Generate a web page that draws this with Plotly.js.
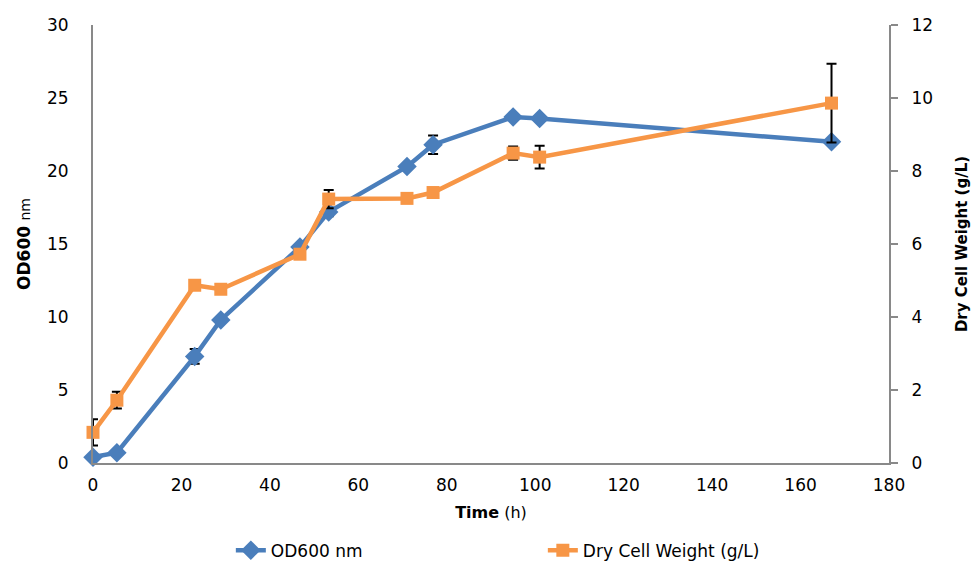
<!DOCTYPE html>
<html>
<head>
<meta charset="utf-8">
<script src="https://cdn.plot.ly/plotly-3.0.1.min.js"></script>
<style>html,body{margin:0;padding:0;background:#fff}#chart{width:974px;height:563px}</style>
</head>
<body>
<div id="chart"></div>
<script>
// Time (h)
const timeOD = [0, 5.4, 23, 28.9, 46.8, 53.3, 71, 76.9, 95, 101, 167];
const od600 = [0.4, 0.7, 7.3, 9.8, 14.8, 17.2, 20.3, 21.8, 23.7, 23.6, 22.0];
const od600Err = [0, 0, 0.5, 0.2, 0, 0.3, 0, 0.63, 0, 0.1, 0];

const timeDCW = [0, 5.4, 23, 28.9, 46.8, 53.3, 71, 76.9, 95, 101, 167];
const dcw = [0.84, 1.72, 4.87, 4.76, 5.72, 7.23, 7.25, 7.41, 8.49, 8.38, 9.86];
const dcwErr = [0.36, 0.23, 0, 0.06, 0, 0.25, 0, 0, 0.18, 0.31, 1.08];

const xTicks = [0, 20, 40, 60, 80, 100, 120, 140, 160, 180];
const yLeftTicks = [0, 5, 10, 15, 20, 25, 30];
const yRightTicks = [0, 2, 4, 6, 8, 10, 12];

const tickFont = {family: 'DejaVu Sans, Verdana, sans-serif', size: 17, color: '#000'};
const titleFamily = 'DejaVu Sans, sans-serif';
const axisColor = '#898989';

const traces = [
  {
    x: timeOD, y: od600, name: 'OD600 nm', type: 'scatter', mode: 'lines+markers',
    line: {color: '#4a7ebb', width: 4.5},
    marker: {symbol: 'diamond', size: 15, color: '#4a7ebb'},
    error_y: {type: 'data', array: od600Err, visible: true, color: '#000', thickness: 2, width: 5},
    cliponaxis: false,
    yaxis: 'y'
  },
  {
    x: timeDCW, y: dcw, name: 'Dry Cell Weight (g/L)', type: 'scatter', mode: 'lines+markers',
    line: {color: '#f79646', width: 4.5},
    marker: {symbol: 'square', size: 13, color: '#f79646'},
    error_y: {type: 'data', array: dcwErr, visible: true, color: '#000', thickness: 2, width: 5},
    cliponaxis: false,
    yaxis: 'y2'
  }
];

const layout = {
  width: 974, height: 563,
  margin: {l: 93, r: 85, t: 25, b: 100},
  paper_bgcolor: '#fff', plot_bgcolor: '#fff',
  showlegend: true,
  legend: {
    orientation: 'h', xref: 'container', yref: 'container',
    x: 0.237, xanchor: 'left', y: 0.022, yanchor: 'middle',
    font: {family: 'DejaVu Sans, Verdana, sans-serif', size: 17, color: '#000'},
    entrywidth: 267, entrywidthmode: 'pixels'
  },
  xaxis: {
    range: [0, 180], tickmode: 'array', tickvals: xTicks, ticktext: xTicks.map(String),
    showgrid: false, zeroline: false, showline: true, linecolor: axisColor, linewidth: 2,
    ticks: '', tickfont: tickFont, ticklabelstandoff: 6,
    title: {text: '<b>Time</b> (h)', font: {family: titleFamily, size: 16, color: '#000'}, standoff: 12}
  },
  yaxis: {
    range: [0, 30], tickmode: 'array', tickvals: yLeftTicks, ticktext: yLeftTicks.map(String),
    showgrid: false, zeroline: false, showline: true, linecolor: axisColor, linewidth: 2,
    ticks: '', tickfont: tickFont, ticklabelstandoff: 19,
    title: {text: '<b>OD600</b> <span style="font-size:14px">nm</span>', font: {family: titleFamily, size: 17, color: '#000'}, standoff: 12}
  },
  yaxis2: {
    range: [0, 12], overlaying: 'y', side: 'right', tickmode: 'array', tickvals: yRightTicks, ticktext: yRightTicks.map(String),
    showgrid: false, zeroline: false, showline: true, linecolor: axisColor, linewidth: 2,
    ticks: 'outside', ticklen: 7, tickwidth: 2, tickcolor: axisColor, tickfont: tickFont, ticklabelstandoff: 10,
    title: {text: '<b>Dry Cell Weight (g/L)</b>', font: {family: titleFamily, size: 15, color: '#000'}, standoff: 24}
  }
};

Plotly.newPlot('chart', traces, layout, {staticPlot: true, displayModeBar: false});
</script>
</body>
</html>
